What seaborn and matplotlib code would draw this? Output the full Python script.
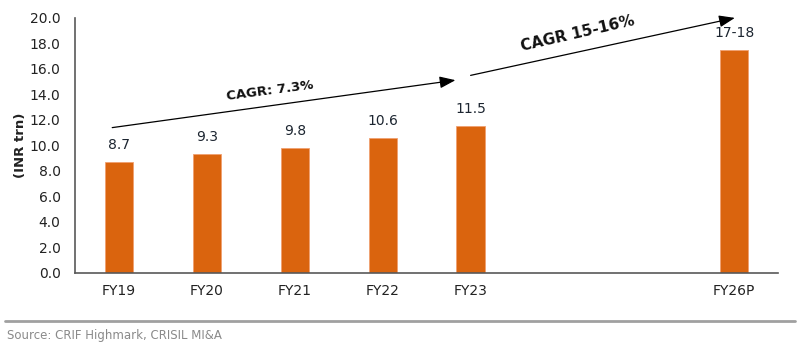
import matplotlib
matplotlib.use("Agg")
import matplotlib.pyplot as plt
import seaborn as sns
import pandas as pd
from matplotlib.lines import Line2D
from matplotlib.ticker import FixedLocator

categories = ["FY19", "FY20", "FY21", "FY22", "FY23", "FY26P"]
values = [8.7, 9.3, 9.8, 10.6, 11.5, 17.5]
value_labels = ["8.7", "9.3", "9.8", "10.6", "11.5", "17-18"]
order = ["FY19", "FY20", "FY21", "FY22", "FY23", "FY24", "FY25", "FY26P"]
tick_labels = ["FY19", "FY20", "FY21", "FY22", "FY23", "", "", "FY26P"]
y_ticks = [0, 2, 4, 6, 8, 10, 12, 14, 16, 18, 20]

sns.set_theme(style="white")
plt.rcParams["font.family"] = ["DejaVu Sans"]

df = pd.DataFrame({"year": categories, "value": values})

fig = plt.figure(figsize=(8, 3.45), dpi=100)
ax = fig.add_axes([0.094, 0.2087, 0.8785, 0.7393])

sns.barplot(data=df, x="year", y="value", order=order, color="#DA640E",
            width=0.32, edgecolor="#F0A070", linewidth=0.6, ax=ax, saturation=1)

ax.set_ylim(0, 20)
ax.set_xlim(-0.5, len(order) - 0.5)
ax.set_yticks(y_ticks)
ax.set_yticklabels([f"{t:.1f}" for t in y_ticks], fontsize=10, color="#222222")
ax.set_xticks(range(len(order)))
ax.set_xticklabels(tick_labels, fontsize=10, color="#222222")
ax.tick_params(axis="x", which="major", length=0, pad=8)
ax.xaxis.set_minor_locator(FixedLocator([i - 0.5 for i in range(len(order) + 1)]))
ax.tick_params(axis="x", which="minor", length=5, width=1, color="#595959", direction="out")
ax.tick_params(axis="y", length=5, width=1, color="#595959", direction="out", pad=5.5)
ax.set_xlabel("")
ax.set_ylabel("(INR trn)", fontsize=9.5, fontweight="bold", color="#222222", labelpad=2)
for s in ["top", "right"]:
    ax.spines[s].set_visible(False)
for s in ["left", "bottom"]:
    ax.spines[s].set_color("#595959")
    ax.spines[s].set_linewidth(1.2)

pos = {c: order.index(c) for c in categories}
for c, v, lab in zip(categories, values, value_labels):
    ax.text(pos[c], v + 0.8, lab, ha="center", va="bottom", fontsize=10, color="#1c2530")

# CAGR arrows
ax.annotate("", xy=(3.86, 15.15), xytext=(-0.11, 11.37),
            arrowprops=dict(arrowstyle="-|>,head_length=0.8,head_width=0.3", color="black", lw=0.9),
            annotation_clip=False)
ax.annotate("", xy=(7.04, 20.05), xytext=(3.97, 15.45),
            arrowprops=dict(arrowstyle="-|>,head_length=0.8,head_width=0.3", color="black", lw=0.9),
            annotation_clip=False)
ax.text(1.72, 14.3, "CAGR: 7.3%", ha="center", va="center", rotation=7.5,
        fontsize=9.5, fontweight="bold", color="#111111")
ax.text(5.22, 18.8, "CAGR 15-16%", ha="center", va="center", rotation=13,
        fontsize=11, fontweight="bold", color="#111111")

fig.add_artist(Line2D([5 / 800, 795 / 800], [0.0696, 0.0696], transform=fig.transFigure,
                      color="#A0A0A0", lw=2))
fig.text(7 / 800, 0.028, "Source: CRIF Highmark, CRISIL MI&A", fontsize=8.5, color="#8a8a8a",
         ha="left", va="center")

fig.savefig("out.png", dpi=100)
